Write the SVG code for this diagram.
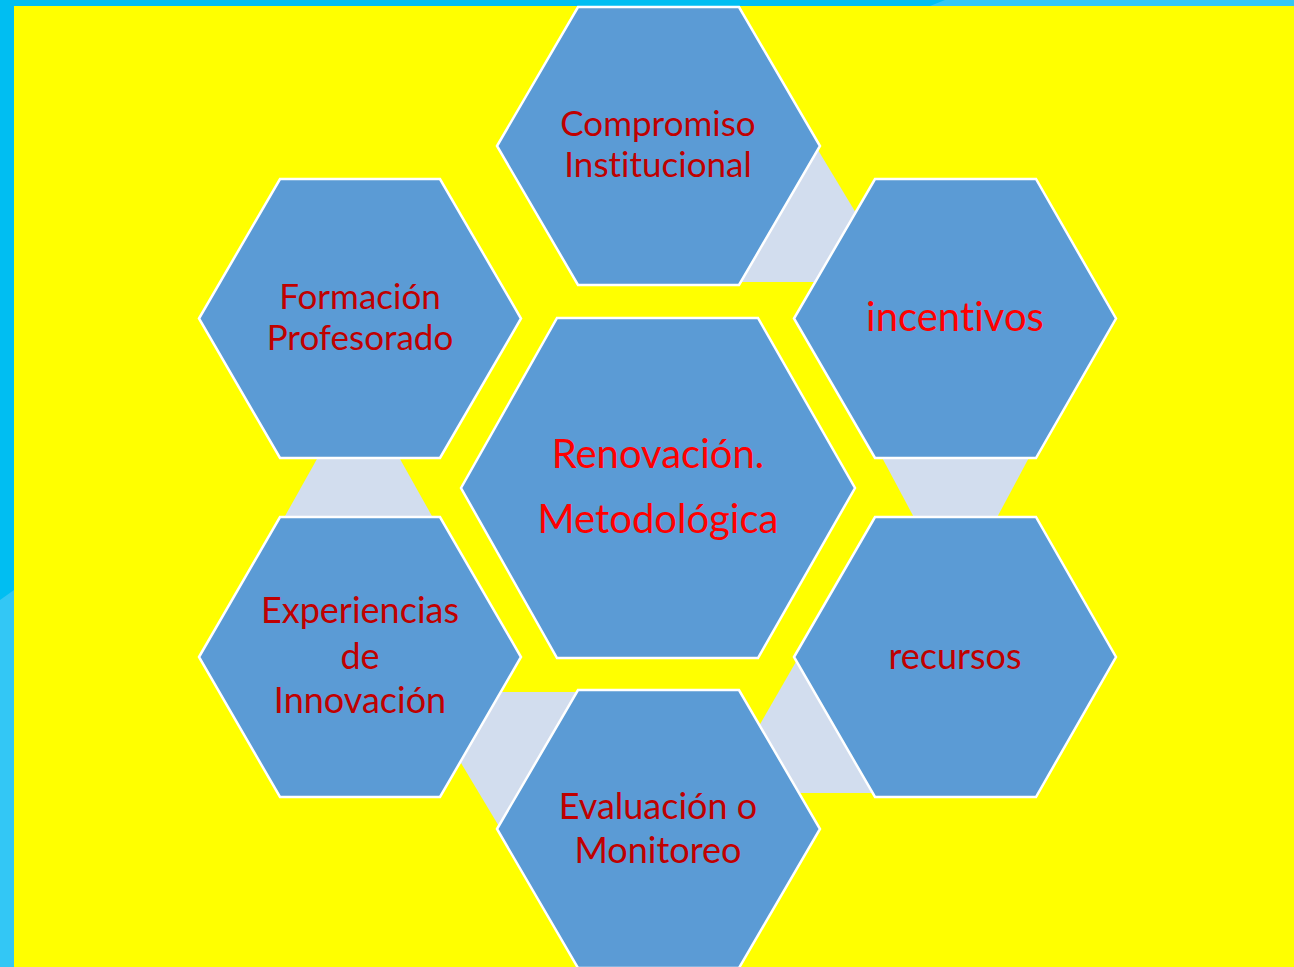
<svg xmlns="http://www.w3.org/2000/svg" width="1294" height="967" viewBox="0 0 1294 967">
  <style>
    .hex { fill: #5B9BD5; stroke: #FFFFFF; stroke-width: 2.5; stroke-linejoin: miter; }
    .conn { fill: #D2DDEE; stroke: none; }
    .lbl { font-family: Lato, "Open Sans", "Liberation Sans", sans-serif; text-anchor: middle; fill: #C00000; font-size: 36px; font-variant-ligatures: none; }
    .sm { font-size: 35px; }
    .big { fill: #FF0000; font-size: 40px; }
  </style>
  <rect x="0" y="0" width="1294" height="967" fill="#00BEF2"/>
  <polygon points="0,600 14,590 14,967 0,967" fill="#33C7F5"/>
  <polygon points="930,6 945,0 1294,0 1294,6" fill="#33C7F5"/>
  <rect x="14" y="6" width="1280" height="961" fill="#FFFF00"/>

  <g id="connectors">
    <polygon class="conn" points="818,150 865,228 830,282 740,282"/>
    <polygon class="conn" points="878,450 1033,450 993,525 918,525"/>
    <polygon class="conn" points="797,660 755,733 790,793 872,793"/>
    <polygon class="conn" points="500,692 580,692 500,828 458,758"/>
    <polygon class="conn" points="322,450 395,450 437,525 280,525"/>
  </g>

  <g id="node-compromiso">
    <polygon class="hex" points="497,146 578,7 739,7 820,146 739,285 578,285"/>
    <text class="lbl sm" x="658" y="136">Compromiso</text>
    <text class="lbl sm" x="658" y="177">Institucional</text>
  </g>
  <g id="node-incentivos">
    <polygon class="hex" points="794,318.5 875,179 1036,179 1116,318.5 1036,458 875,458"/>
    <text class="lbl big" x="955" y="331">incentivos</text>
  </g>
  <g id="node-recursos">
    <polygon class="hex" points="794,657 875,517 1036,517 1116,657 1036,797 875,797"/>
    <text class="lbl" x="955" y="669">recursos</text>
  </g>
  <g id="node-evaluacion">
    <polygon class="hex" points="497,829 578,690 739,690 820,829 739,968 578,968"/>
    <text class="lbl" x="658" y="819">Evaluación o</text>
    <text class="lbl" x="658" y="863">Monitoreo</text>
  </g>
  <g id="node-experiencias">
    <polygon class="hex" points="199,657 280,517 440,517 521,657 440,797 280,797"/>
    <text class="lbl" x="360" y="623">Experiencias</text>
    <text class="lbl" x="360" y="669">de</text>
    <text class="lbl" x="360" y="713">Innovación</text>
  </g>
  <g id="node-formacion">
    <polygon class="hex" points="199,318.5 280,179 440,179 521,318.5 440,458 280,458"/>
    <text class="lbl sm" x="360" y="309">Formación</text>
    <text class="lbl sm" x="360" y="350">Profesorado</text>
  </g>
  <g id="node-renovacion">
    <polygon class="hex" points="461,488 557,318 758,318 855,488 758,658 557,658"/>
    <text class="lbl big" x="658" y="468">Renovación.</text>
    <text class="lbl big" x="658" y="533">Metodológica</text>
  </g>
</svg>
